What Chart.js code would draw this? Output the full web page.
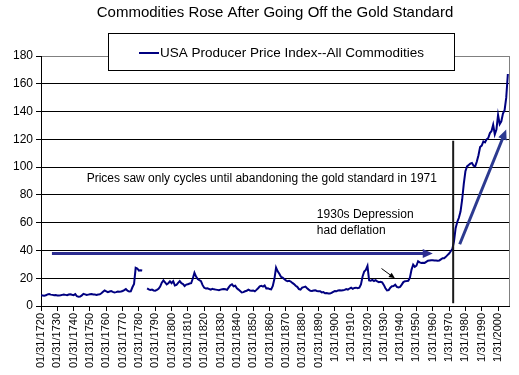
<!DOCTYPE html>
<html>
<head>
<meta charset="utf-8">
<script src="https://cdn.jsdelivr.net/npm/chart.js@4"></script>
<style>
    html, body { margin: 0; padding: 0; background: #ffffff; }
    #wrap { width: 519px; height: 375px; }
</style>
</head>
<body>
<div id="wrap"><canvas id="chart" width="519" height="375"></canvas></div>
<script>
// =======================================
// USA Producer Price Index (annual)
// =======================================

const startYear = 1720;

// 1720 .. 2006, one value per year (null = no data)
const ppiValues = [
    7.8, 7.6, 7.4, 7.7, 8.4, 8.6, 8.2, 8.0, 7.8, 7.9,
    7.6, 7.5, 7.7, 8.0, 8.2, 8.0, 7.8, 8.3, 8.5, 8.1,
    7.8, 8.6, 7.0, 6.6, 6.8, 7.6, 8.8, 8.4, 8.0, 8.2,
    8.4, 8.6, 8.3, 8.2, 8.0, 8.3, 8.4, 9.2, 10.2, 11.2,
    10.6, 10.0, 10.4, 10.8, 10.2, 9.8, 10.0, 10.4, 10.2, 10.4,
    10.8, 11.4, 12.2, 11.0, 10.4, 10.6, 13.5, 15.8, 27.5, 27.0,
    25.5, 25.8, 25.6, null, null, 12.7, 12.0, 11.6, 11.8, 11.2,
    11.0, 11.6, 12.4, 14.0, 16.8, 18.4, 17.0, 15.6, 16.4, 17.8,
    16.4, 17.9, 14.8, 15.2, 16.6, 17.9, 16.4, 15.8, 14.4, 15.4,
    15.6, 16.2, 16.4, 19.8, 24.0, 21.2, 19.4, 18.6, 17.9, 15.0,
    13.1, 12.6, 12.8, 12.2, 11.8, 12.4, 12.0, 11.8, 11.6, 11.4,
    11.8, 12.0, 12.2, 12.0, 11.6, 13.4, 15.0, 15.6, 14.2, 14.6,
    12.7, 11.8, 10.8, 9.8, 10.0, 10.6, 11.0, 11.8, 11.2, 11.0,
    11.2, 10.6, 11.6, 12.8, 14.2, 14.6, 14.0, 14.8, 12.6, 12.8,
    12.2, 12.0, 14.4, 19.6, 27.7, 25.0, 23.2, 21.0, 20.4, 19.4,
    18.4, 17.8, 18.2, 17.6, 16.6, 15.8, 14.6, 13.8, 12.2, 11.8,
    13.2, 13.6, 14.0, 12.8, 11.8, 11.0, 10.8, 11.2, 11.4, 10.8,
    10.6, 10.6, 9.8, 10.0, 9.2, 9.4, 9.0, 9.0, 9.4, 10.2,
    10.8, 10.6, 11.2, 11.4, 11.2, 11.4, 11.6, 12.2, 11.8, 12.6,
    13.2, 12.4, 13.0, 13.2, 12.8, 13.2, 15.6, 21.2, 24.8, 26.0,
    28.8, 18.4, 18.2, 18.8, 18.0, 18.6, 17.8, 17.2, 17.4, 17.0,
    15.2, 12.8, 11.2, 11.4, 13.2, 14.2, 14.4, 15.4, 13.8, 13.4,
    13.8, 15.4, 17.2, 17.9, 18.0, 18.2, 20.4, 26.2, 29.8, 28.2,
    29.0, 32.2, 31.4, 31.0, 31.2, 31.0, 31.8, 32.6, 32.8, 33.0,
    33.0, 32.8, 32.8, 32.6, 32.8, 33.6, 34.4, 34.4, 35.4, 36.6,
    37.8, 39.4, 41.0, 46.5, 56.0, 60.5, 63.5, 68.0, 76.5, 88.0,
    97.0, 100.5, 101.5, 102.5, 103.0, 101.0, 100.5, 104.0, 108.5, 114.5,
    115.5, 118.5, 117.8, 120.0, 121.0, 124.5, 126.0, 130.5, 123.5, 127.0,
    137.5, 131.0, 133.0, 138.5, 141.0, 150.0, 167.0,
];

const ppiYears = ppiValues.map((_, i) => startYear + i);

// category tick positions and their labels
const tickYears = [
    1720, 1730, 1740, 1750, 1760, 1770, 1780, 1790, 1800, 1810,
    1820, 1830, 1840, 1850, 1860, 1870, 1880, 1890, 1900, 1910,
    1920, 1930, 1940, 1950, 1960, 1970, 1980, 1990, 2000,
];
const tickLabels = [
    '01/31/1720', '01/31/1730', '01/31/1740', '01/31/1750', '01/31/1760',
    '01/31/1770', '01/31/1780', '01/31/1790', '01/31/1800', '01/31/1810',
    '01/31/1820', '01/31/1830', '01/31/1840', '01/31/1850', '01/31/1860',
    '01/31/1870', '01/31/1880', '01/31/1890', '1/31/1900', '1/31/1910',
    '1/31/1920', '1/31/1930', '1/31/1940', '1/31/1950', '1/31/1960',
    '1/31/1970', '1/31/1980', '1/31/1990', '1/31/2000',
];

const titleText = 'Commodities Rose After Going Off the Gold Standard';
const seriesName = 'USA Producer Price Index--All Commodities';

// 注記（データ座標）
const notes = [
    { text: 'Prices saw only cycles until abandoning the gold standard in 1971', x: 1748, y: 92 },
    { text: '1930s Depression', x: 1889, y: 66 },
    { text: 'had deflation', x: 1889, y: 54.5 },
];
const arrows = [
    { from: [1726.7, 37.8], to: [1960, 37.8], color: '#2c2c90', width: 3, head: 10 },
    { from: [1976.5, 44.5], to: [2005, 127], color: '#2c3a90', width: 3, head: 10 },
    { from: [1928.6, 27], to: [1936.8, 19.9], color: '#000000', width: 1, head: 6 },
];
const markerLine = { x: 1972.5, from: 2, to: 119 };

const FONT = '"Liberation Sans", Arial, sans-serif';

function drawArrow(ctx, x1, y1, x2, y2, color, width, head) {
    const ang = Math.atan2(y2 - y1, x2 - x1);
    ctx.save();
    ctx.strokeStyle = color;
    ctx.fillStyle = color;
    ctx.lineWidth = width;
    ctx.beginPath();
    ctx.moveTo(x1, y1);
    ctx.lineTo(x2 - Math.cos(ang) * head * 0.8, y2 - Math.sin(ang) * head * 0.8);
    ctx.stroke();
    ctx.beginPath();
    ctx.moveTo(x2, y2);
    ctx.lineTo(x2 - head * Math.cos(ang) + head * 0.45 * Math.sin(ang), y2 - head * Math.sin(ang) - head * 0.45 * Math.cos(ang));
    ctx.lineTo(x2 - head * Math.cos(ang) - head * 0.45 * Math.sin(ang), y2 - head * Math.sin(ang) + head * 0.45 * Math.cos(ang));
    ctx.closePath();
    ctx.fill();
    ctx.restore();
}

// 枠線・注記・凡例・タイトル
const decorPlugin = {
    id: 'decor',
    afterDatasetsDraw(chart) {
        const { ctx, chartArea, scales } = chart;
        const xs = scales.x;
        const ys = scales.y;

        ctx.save();
        // right border of plot area
        ctx.strokeStyle = '#808080';
        ctx.lineWidth = 1;
        ctx.beginPath();
        ctx.moveTo(Math.round(chartArea.right) + 0.5, chartArea.top);
        ctx.lineTo(Math.round(chartArea.right) + 0.5, chartArea.bottom);
        ctx.stroke();

        // 1971 marker
        const mx = xs.getPixelForValue(markerLine.x);
        ctx.strokeStyle = '#1a1a1a';
        ctx.lineWidth = 2;
        ctx.beginPath();
        ctx.moveTo(mx, ys.getPixelForValue(markerLine.to));
        ctx.lineTo(mx, ys.getPixelForValue(markerLine.from));
        ctx.stroke();

        arrows.forEach((a) => {
            drawArrow(
                ctx,
                xs.getPixelForValue(a.from[0]), ys.getPixelForValue(a.from[1]),
                xs.getPixelForValue(a.to[0]), ys.getPixelForValue(a.to[1]),
                a.color, a.width, a.head
            );
        });

        ctx.fillStyle = '#000000';
        ctx.font = '12px ' + FONT;
        ctx.textAlign = 'left';
        ctx.textBaseline = 'middle';
        notes.forEach((n) => {
            ctx.fillText(n.text, xs.getPixelForValue(n.x), ys.getPixelForValue(n.y));
        });

        // legend box overlapping the top of the plot
        ctx.fillStyle = '#ffffff';
        ctx.fillRect(108, 33, 346, 37);
        ctx.strokeStyle = '#000000';
        ctx.lineWidth = 1;
        ctx.strokeRect(108.5, 33.5, 346, 37);
        ctx.strokeStyle = '#000080';
        ctx.lineWidth = 2;
        ctx.beginPath();
        ctx.moveTo(139, 53);
        ctx.lineTo(159, 53);
        ctx.stroke();
        ctx.fillStyle = '#000000';
        ctx.font = '13.5px ' + FONT;
        ctx.fillText(seriesName, 160, 53);

        // title
        ctx.font = '15px ' + FONT;
        ctx.textAlign = 'center';
        ctx.fillText(titleText, 275, 13);
        ctx.restore();
    },
};

new Chart(document.getElementById('chart').getContext('2d'), {
    type: 'line',
    data: {
        datasets: [
            {
                label: seriesName,
                data: ppiYears.map((yr, i) => ({ x: yr, y: ppiValues[i] })),
                borderColor: '#000080',
                borderWidth: 2,
                pointRadius: 0,
                tension: 0,
                spanGaps: false,
            },
        ],
    },
    options: {
        responsive: false,
        animation: false,
        layout: { padding: { top: 56, right: 10, left: 0, bottom: 0 } },
        plugins: {
            legend: { display: false },
            title: { display: false },
            tooltip: { enabled: false },
        },
        scales: {
            x: {
                type: 'linear',
                min: 1720,
                max: 2006.7,
                afterBuildTicks: (scale) => {
                    scale.ticks = tickYears.map((v) => ({ value: v }));
                },
                afterFit: (scale) => { scale.height = 69; },
                ticks: {
                    autoSkip: false,
                    minRotation: 90,
                    maxRotation: 90,
                    padding: 2,
                    color: '#000000',
                    font: { family: FONT, size: 11 },
                    callback: (v, i) => tickLabels[i],
                },
                grid: { drawOnChartArea: false, color: '#000000', tickLength: 5 },
                border: { color: '#000000' },
            },
            y: {
                min: 0,
                max: 180,
                afterFit: (scale) => { scale.width = 41; },
                ticks: {
                    stepSize: 20,
                    padding: 3,
                    color: '#000000',
                    font: { family: FONT, size: 12 },
                },
                grid: {
                    color: (c) => (c.tick && c.tick.value === 180 ? '#808080' : '#000000'),
                    tickColor: '#000000',
                    tickLength: 5,
                },
                border: { color: '#000000' },
            },
        },
    },
    plugins: [decorPlugin],
});
</script>
</body>
</html>
